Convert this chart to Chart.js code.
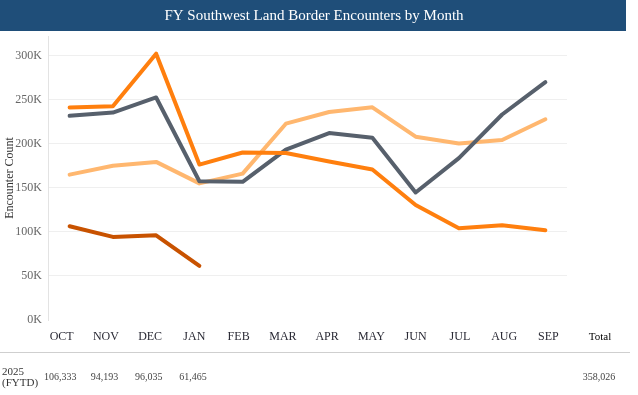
<!DOCTYPE html>
<html>
<head>
<meta charset="utf-8">
<script src="https://cdn.jsdelivr.net/npm/chart.js@4.4.1/dist/chart.umd.min.js"></script>
<style>
    html, body { margin: 0; padding: 0; background: #fff; }
    #wrap { width: 638px; height: 395px; }
</style>
</head>
<body>
<div id="wrap"><canvas id="encChart" width="638" height="395"></canvas></div>
<script>
const months = ["OCT", "NOV", "DEC", "JAN", "FEB", "MAR", "APR", "MAY", "JUN", "JUL", "AUG", "SEP"];

const fy2022 = [164837, 174845, 179253, 154874, 166010, 222574, 235785, 241136, 207834, 200162, 204087, 227547];
const fy2023 = [231529, 235173, 252315, 157358, 156630, 193249, 211992, 206690, 144556, 183503, 232972, 269735];
const fy2024 = [240924, 242399, 301981, 176205, 189913, 189359, 179737, 170723, 130415, 104101, 107473, 101790];
const fy2025 = [106333, 94193, 96035, 61465];

const yTicks = [0, 50000, 100000, 150000, 200000, 250000, 300000];

const tableRowLabel = ["2025", "(FYTD)"];

const serif = "'Liberation Serif', 'Times New Roman', serif";

/* ===========================
   TITULO + TABLA (plugin)
=========================== */

const titleBar = {
    id: "titleBar",
    beforeDraw(chart) {
        const ctx = chart.ctx;
        ctx.save();
        ctx.fillStyle = "#1f4e79";
        ctx.fillRect(0, 0, 626, 31);
        ctx.fillStyle = "#ffffff";
        ctx.font = "15px " + serif;
        ctx.textAlign = "center";
        ctx.textBaseline = "middle";
        ctx.fillText("FY Southwest Land Border Encounters by Month", 314, 16);
        ctx.restore();
    }
};

const fytdTable = {
    id: "fytdTable",
    afterDraw(chart) {
        const ctx = chart.ctx;
        const colLeft = 39.5, colW = 44.25;
        ctx.save();
        ctx.textBaseline = "middle";
        ctx.textAlign = "center";

        // cabecera de meses
        ctx.fillStyle = "#2a2a35";
        ctx.font = "12px " + serif;
        months.forEach((m, i) => ctx.fillText(m, colLeft + colW * (i + 0.5), 337));
        ctx.fillStyle = "#000";
        ctx.font = "11px " + serif;
        ctx.fillText("Total", 600, 337);

        // separador
        ctx.strokeStyle = "#cfcfcf";
        ctx.lineWidth = 1;
        ctx.beginPath();
        ctx.moveTo(0, 352.5);
        ctx.lineTo(630, 352.5);
        ctx.stroke();

        // fila 2025
        ctx.textAlign = "left";
        ctx.fillStyle = "#333";
        ctx.font = "11px " + serif;
        ctx.fillText(tableRowLabel[0], 2, 372);
        ctx.fillText(tableRowLabel[1], 2, 383);

        ctx.textAlign = "center";
        ctx.fillStyle = "#444";
        ctx.font = "10px " + serif;
        fy2025.forEach((v, i) => ctx.fillText(v.toLocaleString("en-US"), colLeft + colW * (i + 0.5) - 1.5, 377));
        const total = fy2025.reduce((a, b) => a + b, 0);
        ctx.fillText(total.toLocaleString("en-US"), 599, 377);
        ctx.restore();
    }
};

function lineDs(label, data, color) {
    return {
        label,
        data,
        borderColor: color,
        backgroundColor: color,
        borderWidth: 4,
        pointRadius: 0,
        tension: 0,
        borderCapStyle: "round",
        borderJoinStyle: "round"
    };
}

new Chart(document.getElementById("encChart"), {
    type: "line",
    data: {
        labels: months,
        datasets: [
            lineDs("FY2025", fy2025, "#c85200"),
            lineDs("FY2024", fy2024, "#ff7f0e"),
            lineDs("FY2023", fy2023, "#57606c"),
            lineDs("FY2022", fy2022, "#ffb76f")
        ]
    },
    options: {
        responsive: false,
        animation: false,
        layout: { padding: { top: 36, right: 71, bottom: 0, left: 0 } },
        plugins: {
            legend: { display: false },
            title: { display: false },
            tooltip: { enabled: false }
        },
        scales: {
            x: {
                type: "category",
                offset: true,
                grid: { display: false },
                border: { display: false },
                ticks: { display: false },
                afterFit(scale) { scale.height = 75; }
            },
            y: {
                min: 0,
                max: 322000,
                afterBuildTicks(scale) {
                    scale.ticks = yTicks.map(v => ({ value: v }));
                },
                grid: {
                    drawTicks: false,
                    color: ctx => (ctx.tick && ctx.tick.value === 0 ? "rgba(0,0,0,0)" : "#efefef")
                },
                border: { display: true, color: "#e3e3e3", width: 1 },
                ticks: {
                    padding: 6,
                    color: "#666",
                    font: { family: serif, size: 12 },
                    callback: v => (v / 1000) + "K"
                },
                title: {
                    display: true,
                    text: "Encounter Count",
                    color: "#333",
                    font: { family: serif, size: 12 },
                    padding: { top: 3, bottom: 0, y: 0 }
                },
                afterFit(scale) { scale.width = 48; }
            }
        }
    },
    plugins: [titleBar, fytdTable]
});
</script>
</body>
</html>
